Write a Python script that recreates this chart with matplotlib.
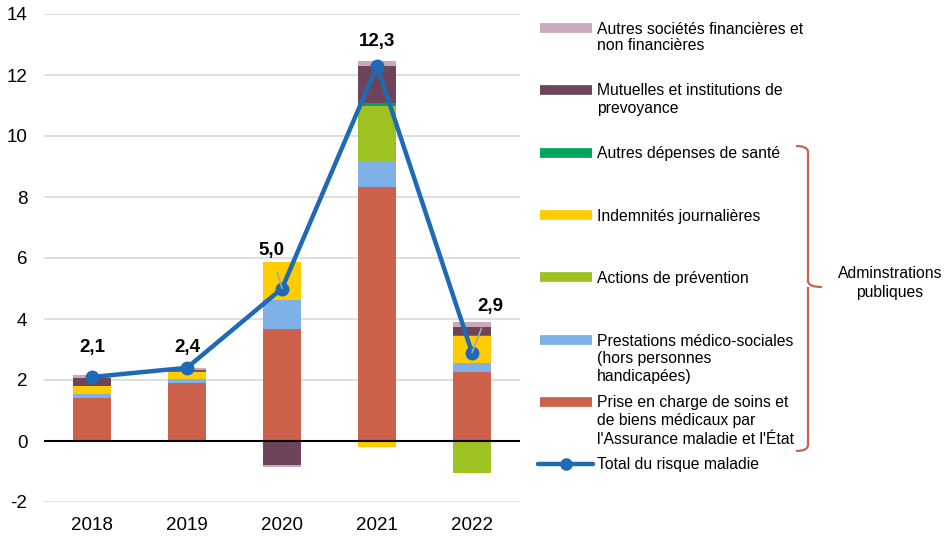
import matplotlib
matplotlib.use("Agg")
import matplotlib.pyplot as plt
from matplotlib.lines import Line2D
from matplotlib.path import Path
from matplotlib.patches import PathPatch
import numpy as np

plt.rcParams['font.family'] = ['Liberation Sans', 'DejaVu Sans']

years = ["2018", "2019", "2020", "2021", "2022"]
prise = [1.41, 1.89, 3.67, 8.34, 2.27]
prestations = [0.12, 0.14, 0.95, 0.80, 0.28]
prevention = [0.00, 0.00, 0.00, 1.84, -1.06]
indemnites = [0.28, 0.22, 1.24, -0.19, 0.90]
autres_dep = [-0.03, 0.03, 0.00, 0.09, 0.03]
mutuelles = [0.27, 0.05, -0.79, 1.23, 0.27]
autres_soc = [0.07, 0.05, -0.05, 0.17, 0.16]
total = [2.1, 2.4, 5.0, 12.3, 2.9]
total_labels = ["2,1", "2,4", "5,0", "12,3", "2,9"]

series = [
    ("Prise en charge de soins et\nde biens médicaux par\nl'Assurance maladie et l'État", prise, "#CD614B"),
    ("Prestations médico-sociales\n(hors personnes\nhandicapées)", prestations, "#7DB1E8"),
    ("Actions de prévention", prevention, "#9DC222"),
    ("Indemnités journalières", indemnites, "#FFCC00"),
    ("Autres dépenses de santé", autres_dep, "#00A65A"),
    ("Mutuelles et institutions de\nprevoyance", mutuelles, "#6D4459"),
    ("Autres sociétés financières et\nnon financières", autres_soc, "#CBA9BA"),
]
line_color = "#1F69B5"

fig = plt.figure(figsize=(9.51, 5.38), dpi=100)
W, H = 951, 538
ax = fig.add_axes([44 / W, 1 - 502 / H, (520 - 44) / W, (502 - 14) / H])

x = np.arange(len(years))
pos_base = np.zeros(len(years))
neg_base = np.zeros(len(years))
for name, vals, col in series:
    v = np.array(vals)
    bottoms = np.where(v >= 0, pos_base, neg_base)
    ax.bar(x, v, bottom=bottoms, width=0.4, color=col, zorder=2)
    pos_base = pos_base + np.where(v >= 0, v, 0)
    neg_base = neg_base + np.where(v < 0, v, 0)

ax.plot(x, total, color=line_color, lw=3.2, marker='o', ms=9, zorder=4)

offsets = [(0, 29), (0, 20), (-11, 38), (0, 24), (18, 46)]
for i, (lab, off) in enumerate(zip(total_labels, offsets)):
    arrow = None
    if i in (2, 4):
        arrow = dict(arrowstyle='-', color='#A6A6A6', lw=1.2, shrinkA=8, shrinkB=0)
    ax.annotate(lab, (x[i], total[i]), xytext=off, textcoords='offset pixels',
                ha='center', va='center', fontsize=13.5, fontweight='bold',
                color='black', arrowprops=arrow, zorder=5)

ax.set_ylim(-2, 14)
ax.set_xlim(-0.505, 4.505)
ax.set_yticks(np.arange(-2, 15, 2))
ax.set_yticklabels([str(t) for t in range(-2, 15, 2)], fontsize=13.5)
ax.set_xticks(x)
ax.set_xticklabels(years, fontsize=13.5)
ax.tick_params(length=0)
ax.tick_params(axis='y', pad=12)
ax.tick_params(axis='x', pad=11)
for s in ax.spines.values():
    s.set_visible(False)
ax.grid(axis='y', color='#D9D9D9', lw=1.2, zorder=0)
ax.set_axisbelow(True)
ax.axhline(0, color='black', lw=1.5, zorder=3)

# legend (manual)
def fx(px):
    return px / W

def fy(py):
    return 1 - py / H

LFS = 11.3
legend_items = [
    (series[6][0], series[6][2], 28, 17),
    (series[5][0], series[5][2], 90, 17),
    (series[4][0], series[4][2], 153, 17),
    (series[3][0], series[3][2], 215, 17),
    (series[2][0], series[2][2], 277, 17),
    (series[1][0], series[1][2], 340, 18),
    (series[0][0], series[0][2], 402, 18),
]
for name, col, py, sp in legend_items:
    fig.add_artist(Line2D([fx(540), fx(592)], [fy(py), fy(py)], color=col, lw=7,
                          solid_capstyle='butt'))
    for k, line in enumerate(name.split("\n")):
        fig.text(fx(597), fy(py + 1 + sp * k), line, ha='left', va='center', fontsize=LFS)

fig.add_artist(Line2D([fx(538), fx(593)], [fy(464), fy(464)], color=line_color, lw=3.2,
                      solid_capstyle='round'))
fig.add_artist(Line2D([fx(566)], [fy(464)], color=line_color, marker='o', ms=8, lw=0))
fig.text(fx(597), fy(465), "Total du risque maladie", ha='left', va='center', fontsize=LFS)

# brace
bx0, bx1, btip = 796, 808, 822
ytop, ymid, ybot = 146, 287, 451
verts = [
    (bx0, ytop), (bx1, ytop), (bx1, ytop + 6),
    (bx1, ymid - 6), (bx1, ymid), (btip, ymid),
    (bx1, ymid), (bx1, ymid + 6),
    (bx1, ybot - 6), (bx1, ybot), (bx0, ybot),
]
codes = [Path.MOVETO, Path.CURVE3, Path.CURVE3,
         Path.LINETO, Path.CURVE3, Path.CURVE3,
         Path.MOVETO, Path.LINETO,
         Path.LINETO, Path.CURVE3, Path.CURVE3]
vv = [(fx(a), fy(b)) for a, b in verts]
fig.add_artist(PathPatch(Path(vv, codes), fill=False, edgecolor='#CD614B', lw=1.6,
                         transform=fig.transFigure))
fig.text(fx(890), fy(274), "Adminstrations", ha='center', va='center', fontsize=LFS)
fig.text(fx(890), fy(292), "publiques", ha='center', va='center', fontsize=LFS)

fig.savefig("out.png", dpi=100)
